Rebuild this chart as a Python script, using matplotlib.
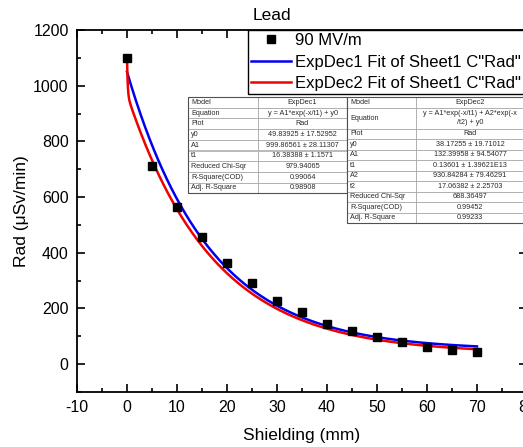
import numpy as np
import matplotlib.pyplot as plt
from matplotlib.patches import Rectangle

plt.rcParams["font.family"] = ["Liberation Sans", "DejaVu Sans"]
plt.rcParams["axes.unicode_minus"] = False

W, H = 523, 447

# measured points (Lead, 90 MV/m)
shielding = [0, 5, 10, 15, 20, 25, 30, 35, 40, 45, 50, 55, 60, 65, 70]
rad = [1100, 710, 565, 455, 362, 290, 228, 186, 145, 118, 98, 79, 62, 52, 42]

# fit parameters shown in the report tables
exp1_y0, exp1_A1, exp1_t1 = 49.83925, 999.86561, 16.38388
exp2_y0, exp2_A1, exp2_t1 = 38.17255, 132.39958, 0.13601
exp2_A2, exp2_t2 = 930.84284, 17.06382

table1_rows = [
    ("Model", "ExpDec1"),
    ("Equation", "y = A1*exp(-x/t1) + y0"),
    ("Plot", "Rad"),
    ("y0", "49.83925 \u00b1 17.52952"),
    ("A1", "999.86561 \u00b1 28.11307"),
    ("t1", "16.38388 \u00b1 1.1571"),
    ("Reduced Chi-Sqr", "979.94065"),
    ("R-Square(COD)", "0.99064"),
    ("Adj. R-Square", "0.98908"),
]
table2_rows = [
    ("Model", "ExpDec2"),
    ("Equation", "y = A1*exp(-x/t1) + A2*exp(-x\n/t2) + y0"),
    ("Plot", "Rad"),
    ("y0", "38.17255 \u00b1 19.71012"),
    ("A1", "132.39958 \u00b1 94.54077"),
    ("t1", "0.13601 \u00b1 1.39621E13"),
    ("A2", "930.84284 \u00b1 79.46291"),
    ("t2", "17.06382 \u00b1 2.25703"),
    ("Reduced Chi-Sqr", "688.36497"),
    ("R-Square(COD)", "0.99452"),
    ("Adj. R-Square", "0.99233"),
]

fig = plt.figure(figsize=(W / 100, H / 100), dpi=100)
ax = fig.add_axes([77 / W, (H - 392) / H, 450 / W, 362 / H])

xf = np.linspace(0, 70, 1500)
fit1 = exp1_A1 * np.exp(-xf / exp1_t1) + exp1_y0
fit2 = (exp2_A1 * np.exp(-xf / exp2_t1) + exp2_A2 * np.exp(-xf / exp2_t2)
        + exp2_y0)

ax.plot(shielding, rad, ls="none", marker="s", ms=5.8, color="black",
        label="90 MV/m", zorder=3)
ax.plot(xf, fit1, color="#0000f0", lw=1.8,
        label='ExpDec1 Fit of Sheet1 C"Rad"', zorder=2)
ax.plot(xf, fit2, color="#f00000", lw=1.8,
        label='ExpDec2 Fit of Sheet1 C"Rad"', zorder=2)

ax.set_xlim(-10, 80)
ax.set_ylim(-100, 1200)
ax.set_xticks(np.arange(-10, 81, 10))
ax.set_xticks(np.arange(-5, 80, 10), minor=True)
ax.set_yticks(np.arange(0, 1201, 200))
ax.set_yticks(np.arange(-100, 1200, 200), minor=True)
ax.tick_params(which="both", direction="in", top=True, right=True,
               labelsize=11.5, width=1.2, pad=6)
ax.tick_params(which="major", length=6)
ax.tick_params(which="minor", length=3)
for s in ax.spines.values():
    s.set_linewidth(1.3)
ax.set_xlabel("Shielding (mm)", fontsize=12.5, labelpad=9)
ax.set_ylabel("Rad (\u03bcSv/min)", fontsize=12.5, labelpad=3)
fig.text(272 / W, 1 - 15 / H, "Lead", fontsize=12.5, ha="center",
         va="center")

leg = ax.legend(loc="upper left", bbox_to_anchor=(248 / W, 1 - 30 / H),
                bbox_transform=fig.transFigure, borderaxespad=0,
                fontsize=12, fancybox=False, framealpha=1,
                edgecolor="black", handlelength=2.35, handletextpad=0.25,
                labelspacing=0.37, borderpad=0.2)
leg.get_frame().set_linewidth(1.0)

# report tables drawn in pixel coordinates on a top overlay
ov = fig.add_axes([0, 0, 1, 1], zorder=10)
ov.set_xlim(0, W)
ov.set_ylim(H, 0)
ov.axis("off")


def draw_table(rows, x0, y0, c1, c2, rh):
    y = y0
    for label, value in rows:
        n = value.count("\n") + 1
        h = rh * n
        ov.add_patch(Rectangle((x0, y), c1, h, fc="white", ec="#a0a0a0",
                               lw=0.5))
        ov.add_patch(Rectangle((x0 + c1, y), c2, h, fc="white",
                               ec="#a0a0a0", lw=0.5))
        ov.text(x0 + 3, y + h / 2, label, fontsize=5.2, va="center",
                ha="left", color="#2a2a2a")
        ov.text(x0 + c1 + c2 / 2, y + h / 2, value, fontsize=5.2,
                va="center", ha="center", color="#2a2a2a",
                linespacing=1.45)
        y += h
    ov.add_patch(Rectangle((x0, y0), c1 + c2, y - y0, fc="none",
                           ec="#505050", lw=0.8))


draw_table(table1_rows, 188, 97, 70, 89, 10.7)
draw_table(table2_rows, 347, 97, 69, 108, 10.5)

fig.savefig("out.png", dpi=100)
